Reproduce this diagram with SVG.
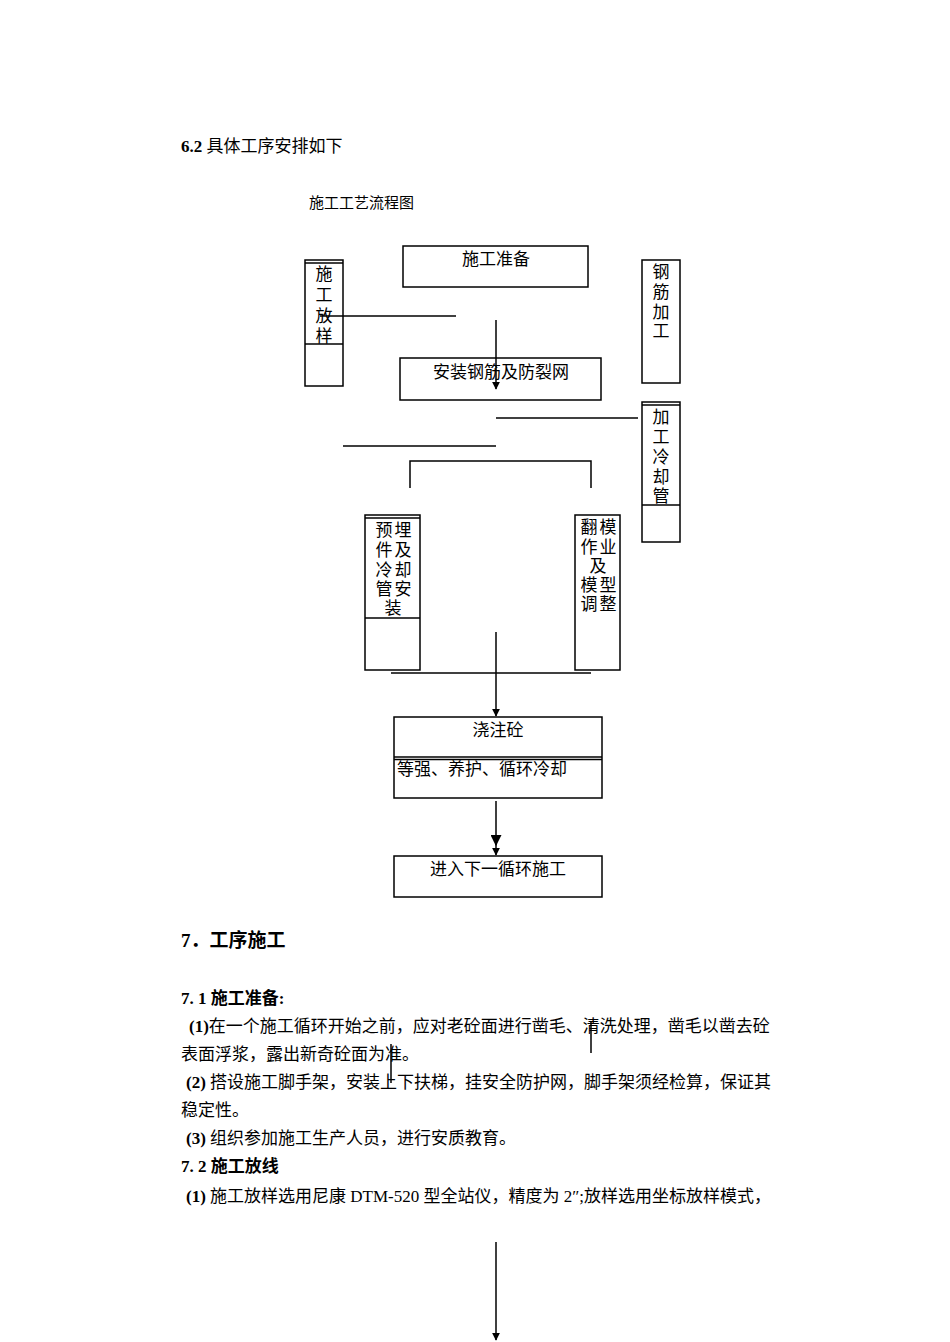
<svg xmlns="http://www.w3.org/2000/svg" width="950" height="1342" viewBox="0 0 950 1342">
<style>
text{font-family:"Liberation Serif","Noto Sans CJK SC",serif;fill:#000}
.n{font-size:17px}
.b{font-weight:bold}
.box{fill:none;stroke:#000;stroke-width:1.5}
.ln{stroke:#000;stroke-width:1.5;fill:none}
</style>
<defs><marker id="ah" viewBox="0 0 10 10" refX="9" refY="5" markerWidth="8" markerHeight="8" markerUnits="userSpaceOnUse" orient="auto"><path d="M0,0L10,5L0,10z" fill="#000"/></marker>
<marker id="ah2" viewBox="0 0 10 10" refX="9" refY="5" markerWidth="11" markerHeight="11" markerUnits="userSpaceOnUse" orient="auto"><path d="M0,0L10,5L0,10z" fill="#000"/></marker></defs>
<rect width="950" height="1342" fill="#fff"/>
<text x="181" y="152" class="n"><tspan class="b">6.2</tspan> 具体工序安排如下</text>
<text x="309" y="208" font-size="15">施工工艺流程图</text>

<g id="n1"><rect class="box" x="403" y="246" width="185" height="41"/><text x="496" y="265" class="n" text-anchor="middle">施工准备</text></g>
<g id="n2"><rect class="box" x="305" y="260" width="38" height="126"/><line class="ln" x1="305" y1="263" x2="343" y2="263"/><line class="ln" x1="305" y1="344" x2="343" y2="344"/>
<text class="n" text-anchor="middle"><tspan x="324" y="280">施</tspan><tspan x="324" y="301">工</tspan><tspan x="324" y="322">放</tspan><tspan x="324" y="342">样</tspan></text></g>
<g id="n3"><rect class="box" x="642" y="260" width="38" height="123"/>
<text class="n" text-anchor="middle"><tspan x="661" y="278">钢</tspan><tspan x="661" y="298">筋</tspan><tspan x="661" y="318">加</tspan><tspan x="661" y="337">工</tspan></text></g>
<g id="n4"><rect class="box" x="400" y="358" width="201" height="42"/><text x="501" y="378" class="n" text-anchor="middle">安装钢筋及防裂网</text></g>
<g id="n5"><rect class="box" x="642" y="402" width="38" height="140"/><line class="ln" x1="642" y1="405" x2="680" y2="405"/><line class="ln" x1="642" y1="505" x2="680" y2="505"/>
<text class="n" text-anchor="middle"><tspan x="661" y="423">加</tspan><tspan x="661" y="443">工</tspan><tspan x="661" y="463">冷</tspan><tspan x="661" y="483">却</tspan><tspan x="661" y="502">管</tspan></text></g>
<g id="n6"><rect class="box" x="365" y="515" width="55" height="155"/><line class="ln" x1="365" y1="518" x2="420" y2="518"/><line class="ln" x1="365" y1="618" x2="420" y2="618"/>
<text class="n" text-anchor="middle"><tspan x="384" y="536">预</tspan><tspan x="403" y="536">埋</tspan><tspan x="384" y="556">件</tspan><tspan x="403" y="556">及</tspan><tspan x="384" y="576">冷</tspan><tspan x="403" y="576">却</tspan><tspan x="384" y="595">管</tspan><tspan x="403" y="595">安</tspan><tspan x="393" y="614">装</tspan></text></g>
<g id="n7"><rect class="box" x="575" y="515" width="45" height="155"/>
<text class="n" text-anchor="middle"><tspan x="589" y="533">翻</tspan><tspan x="608" y="533">模</tspan><tspan x="589" y="553">作</tspan><tspan x="608" y="553">业</tspan><tspan x="598" y="572">及</tspan><tspan x="589" y="591">模</tspan><tspan x="608" y="591">型</tspan><tspan x="589" y="610">调</tspan><tspan x="608" y="610">整</tspan></text></g>
<g id="n8"><rect class="box" x="394" y="717" width="208" height="81"/><line class="ln" x1="394" y1="757" x2="602" y2="757"/><line class="ln" x1="394" y1="759.5" x2="602" y2="759.5"/>
<text x="498" y="736" class="n" text-anchor="middle">浇注砼</text><text x="397" y="775" class="n">等强、养护、循环冷却</text></g>
<g id="n9"><rect class="box" x="394" y="856" width="208" height="41"/><text x="498" y="875" class="n" text-anchor="middle">进入下一循环施工</text></g>

<g id="connectors">
<line class="ln" x1="320" y1="316" x2="456" y2="316"/>
<line class="ln" x1="496" y1="320" x2="496" y2="389" marker-end="url(#ah)"/>
<line class="ln" x1="496" y1="418" x2="638" y2="418"/>
<line class="ln" x1="343" y1="446" x2="496" y2="446"/>
<polyline class="ln" points="410,488 410,461 591,461 591,488"/>
<line class="ln" x1="391" y1="673" x2="591" y2="673"/>
<line class="ln" x1="496" y1="632" x2="496" y2="716" marker-end="url(#ah)"/>
<line class="ln" x1="496" y1="801" x2="496" y2="845" marker-end="url(#ah2)"/>
<line class="ln" x1="496" y1="835" x2="496" y2="855" marker-end="url(#ah)"/>
<line class="ln" x1="591" y1="1022" x2="591" y2="1053"/>
<line class="ln" x1="391" y1="1044" x2="391" y2="1083"/>
<line class="ln" x1="496" y1="1242" x2="496" y2="1340" marker-end="url(#ah)"/>
</g>

<text x="181" y="947" font-size="19" class="b">7．工序施工</text>
<text x="181" y="1004" class="n b">7. 1 施工准备:</text>
<text x="189" y="1032" class="n"><tspan class="b">(1)</tspan>在一个施工循环开始之前，应对老砼面进行凿毛、清洗处理，凿毛以凿去砼</text>
<text x="181" y="1060" class="n">表面浮浆，露出新奇砼面为准。</text>
<text x="186" y="1088" class="n"><tspan class="b">(2)</tspan> 搭设施工脚手架，安装上下扶梯，挂安全防护网，脚手架须经检算，保证其</text>
<text x="181" y="1116" class="n">稳定性。</text>
<text x="186" y="1144" class="n"><tspan class="b">(3)</tspan> 组织参加施工生产人员，进行安质教育。</text>
<text x="181" y="1172" class="n b">7. 2 施工放线</text>
<text x="186" y="1202" class="n"><tspan class="b">(1)</tspan>  施工放样选用尼康 DTM-520 型全站仪，精度为 2″;放样选用坐标放样模式，</text>
</svg>
